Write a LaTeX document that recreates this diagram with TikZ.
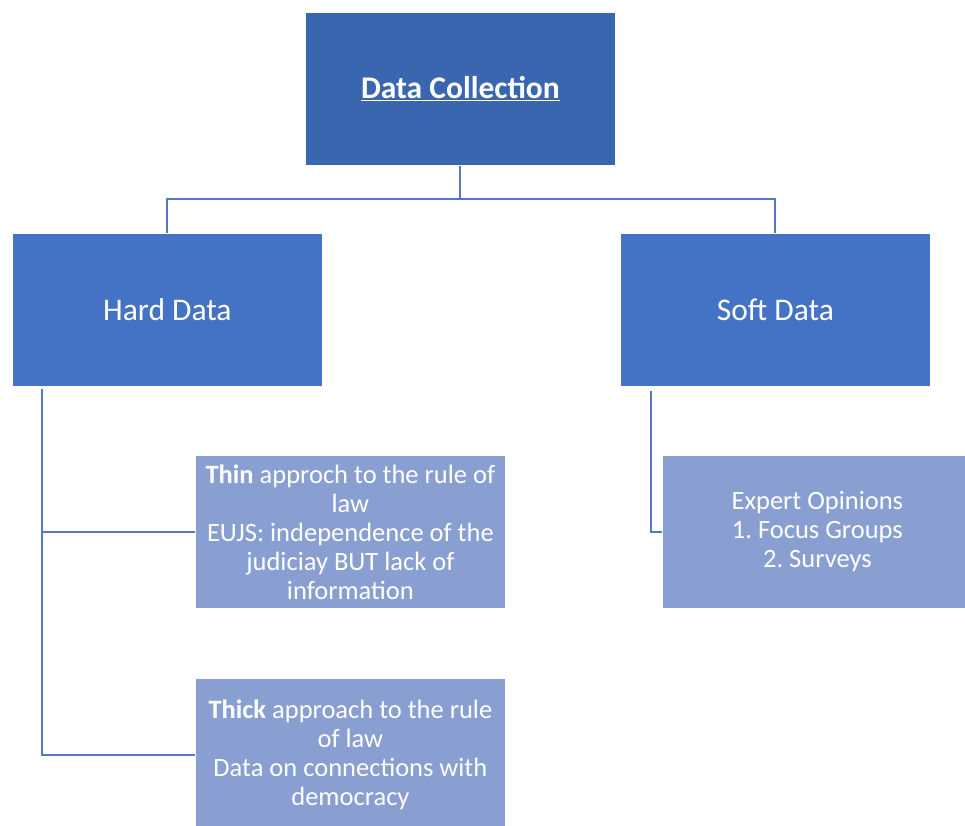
\documentclass[tikz,border=0pt]{standalone}
\usepackage{fontspec}
\setmainfont{Carlito}
\frenchspacing
\definecolor{topblue}{HTML}{3A66B0}
\definecolor{midblue}{HTML}{4472C4}
\definecolor{lightblue}{HTML}{8A9FD1}
\definecolor{linkblue}{HTML}{5578C6}
\begin{document}
\begin{tikzpicture}[x=1pt,y=-1pt,
  box/.style={rectangle, anchor=north west, minimum width=310pt, minimum height=153pt,
    inner sep=2pt, text=white, align=center, draw=white, line width=0.8pt},
  bigbox/.style={box, fill=midblue, font=\fontsize{31.5}{36}\selectfont},
  topbox/.style={box, fill=topblue, font=\fontsize{31.5}{36}\selectfont},
  smallbox/.style={box, fill=lightblue, font=\fontsize{26.5}{29}\selectfont},
  link/.style={draw=linkblue, line width=2pt}]
\useasboundingbox (0,0) rectangle (965,825);
\clip (0,0) rectangle (965,825);
\fill[white] (0,0) rectangle (965,825);
\node[topbox] (top) at (305,12) {\underline{\textbf{Data Collection}}};
\node[bigbox] (hard) at (12,233) {Hard Data};
\node[bigbox] (soft) at (620,233) {Soft Data};
\node[smallbox] (thin) at (195,455) {\textbf{Thin} approch to the rule of\\law\\EUJS: independence of the\\judiciay BUT lack of\\information};
\node[smallbox] (thick) at (195,678) {\textbf{Thick} approach to the rule\\of law\\Data on connections with\\democracy};
\node[smallbox] (expert) at (662,455) {Expert Opinions\\1. Focus Groups\\2. Surveys};
\draw[link] (top.south) -- ++(0,33) coordinate (split) -| (hard.north);
\draw[link] (split) -| (soft.north);
\draw[link] ([xshift=30pt,yshift=-2pt]hard.south west) |- (thin.west);
\draw[link] ([xshift=30pt,yshift=-2pt]hard.south west) |- (thick.west);
\draw[link] ([xshift=31pt,yshift=-4pt]soft.south west) |- (expert.west);
\end{tikzpicture}
\end{document}
